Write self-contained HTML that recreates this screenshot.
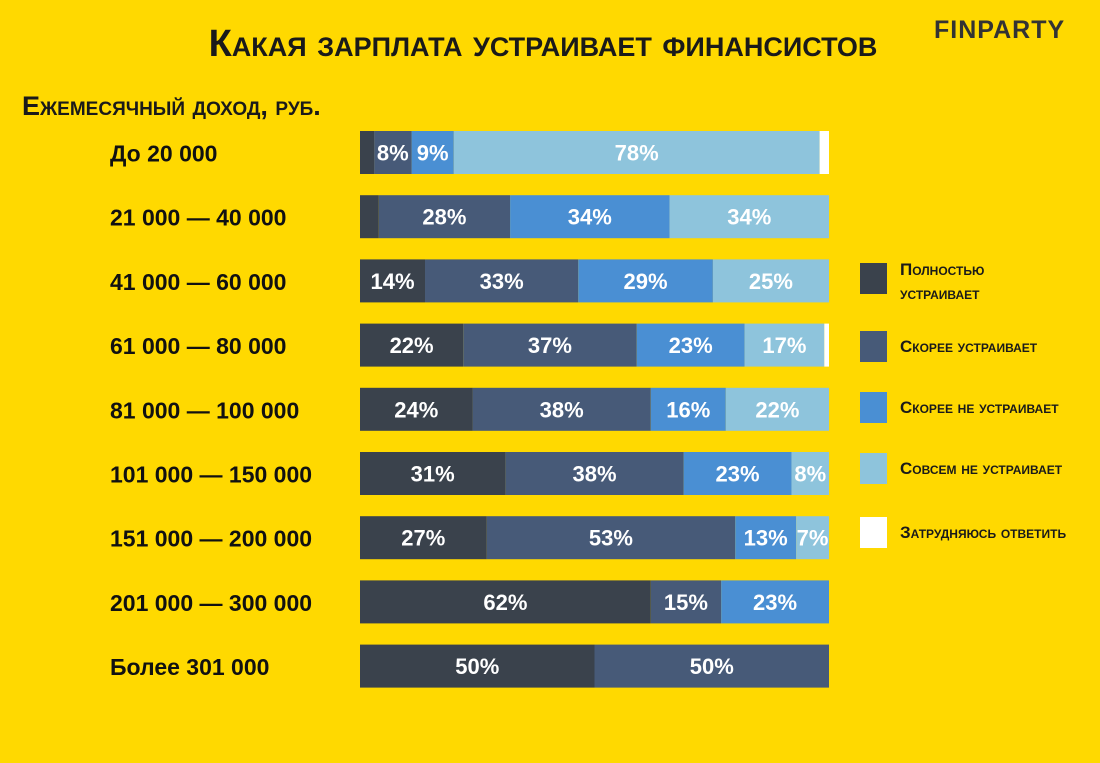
<!DOCTYPE html>
<html><head><meta charset="utf-8">
<style>
body{margin:0;width:1100px;height:763px;background:#ffd900;font-family:"Liberation Sans",sans-serif;overflow:hidden;position:relative}
.t{position:absolute;font-weight:bold;color:#1a1a1a;white-space:nowrap}
</style></head><body>
<div class="t" style="left:0;width:1086px;text-align:center;top:23px;font-size:38px;font-variant:small-caps">Какая зарплата устраивает финансистов</div>
<div class="t" style="left:934px;top:16px;font-size:25px;letter-spacing:1px;color:#333">FINPARTY</div>
<div class="t" style="left:22px;top:91px;font-size:27px;font-variant:small-caps">Ежемесячный доход, руб.</div>
<svg id="c" width="1100" height="763" style="position:absolute;left:0;top:0"></svg>
<script>
const categories=["До 20 000","21 000 — 40 000","41 000 — 60 000","61 000 — 80 000","81 000 — 100 000","101 000 — 150 000","151 000 — 200 000","201 000 — 300 000","Более 301 000"];
const fully=[3,4,14,22,24,31,27,62,50];
const rather=[8,28,33,37,38,38,53,15,50];
const ratherNot=[9,34,29,23,16,23,13,23,0];
const notAtAll=[78,34,25,17,22,8,7,0,0];
const hard=[2,0,0,1,0,0,0,0,0];
const seriesNames=["Полностью устраивает","Скорее устраивает","Скорее не устраивает","Совсем не устраивает","Затрудняюсь ответить"];
const series=[fully,rather,ratherNot,notAtAll,hard];
const colors=["#3a424c","#475a78","#4a8fd3","#8ec4dc","#ffffff"];
const svg=document.getElementById('c');const NS="http://www.w3.org/2000/svg";
const x0=360,W=469,rowY=i=>131+i*64.2,bh=43;
function mk(t,a){const e=document.createElementNS(NS,t);for(const k in a)e.setAttribute(k,a[k]);svg.appendChild(e);return e;}
categories.forEach((c,i)=>{
 const y=rowY(i);
 const lab=mk('text',{x:110,y:y+bh/2+9,'font-size':23,'font-weight':'bold',fill:'#111','font-family':'Liberation Sans, sans-serif'});
 lab.textContent=c;
 
 
 let sum=0;series.forEach(s=>sum+=s[i]);
 let x=x0;
 series.forEach((s,k)=>{
  const v=s[i];if(!v)return;
  const w=v/sum*W;
  const r=mk('rect',{x:x,y:y,width:w,height:bh,fill:colors[k]});
  
  
  if(v>=7&&k<4){const t=mk('text',{x:x+w/2,y:y+bh/2+8,'text-anchor':'middle','font-size':22,'font-weight':'bold',fill:'#fff','font-family':'Liberation Sans, sans-serif'});t.textContent=v+'%';
   
   }
  x+=w;
 });
});
const ly=[263,331,392,453,517];
seriesNames.forEach((n,k)=>{
 const r=mk('rect',{x:860,y:ly[k],width:27,height:31,fill:colors[k]});
 
 
 const words=k==0?["Полностью","устраивает"]:[n];
 words.forEach((w,j)=>{const t=mk('text',{x:900,y:ly[k]+(k==0?12+j*24:21),'font-size':17,'font-weight':'bold',fill:'#1a1a1a','font-family':'Liberation Sans, sans-serif','font-variant':'small-caps'});t.textContent=w;
  
  });
});
</script>
</body></html>
